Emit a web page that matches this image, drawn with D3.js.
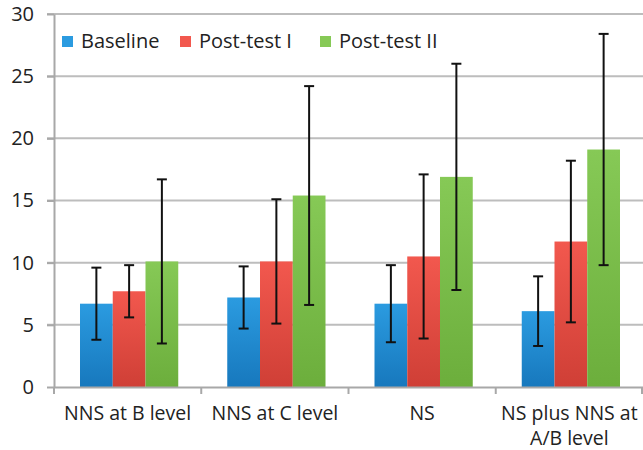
<!DOCTYPE html>
<html lang="en">
<head>
<meta charset="UTF-8">
<title>Scores by group</title>
<script src="https://d3js.org/d3.v7.min.js"></script>
<style>
    body { margin: 0; background: #fff; }
    text { font-family: "Open Sans", Lato, sans-serif; fill: #222; }
    .grid line { stroke: #bdbdbd; stroke-width: 2px; }
    .axis path, .axis line { stroke: #a8a8a8; stroke-width: 2px; }
    .err { stroke: #111; stroke-width: 2px; }
</style>
</head>
<body>
<svg id="chart" width="643" height="450"></svg>
<script>
    const categories = ["NNS at B level", "NNS at C level", "NS", "NS plus NNS at A/B level"];
    const series = ["Baseline", "Post-test I", "Post-test II"];
    const baseline = [6.7, 7.2, 6.7, 6.1];
    const post1 = [7.7, 10.1, 10.5, 11.7];
    const post2 = [10.1, 15.4, 16.9, 19.1];
    // error bar low / high for each series
    const baselineLow = [3.8, 4.7, 3.6, 3.3];
    const baselineHigh = [9.6, 9.7, 9.8, 8.9];
    const post1Low = [5.6, 5.1, 3.9, 5.2];
    const post1High = [9.8, 15.1, 17.1, 18.2];
    const post2Low = [3.5, 6.6, 7.8, 9.8];
    const post2High = [16.7, 24.2, 26.0, 28.4];
    const yTicks = [0, 5, 10, 15, 20, 25, 30];
    const colors = [["#2b9be0", "#1778bd"], ["#f2584e", "#cf3f36"], ["#86c956", "#6cae3c"]];

    const values = [baseline, post1, post2];
    const lows = [baselineLow, post1Low, post2Low];
    const highs = [baselineHigh, post1High, post2High];

    const margin = {left: 54, right: 0, top: 14, bottom: 63};
    const width = 643, height = 450;
    const svg = d3.select("#chart");

    const x = d3.scaleBand().domain(categories)
        .range([margin.left, width - margin.right]).paddingInner(0).paddingOuter(0);
    const xs = d3.scaleBand().domain(series).range([26, x.bandwidth() - 23]).padding(0);
    const y = d3.scaleLinear().domain([0, 30]).range([height - margin.bottom, margin.top]);

    const defs = svg.append("defs");
    colors.forEach((c, i) => {
        const g = defs.append("linearGradient").attr("id", "grad" + i)
            .attr("x1", 0).attr("y1", 0).attr("x2", 0).attr("y2", 1);
        g.append("stop").attr("offset", "0%").attr("stop-color", c[0]);
        g.append("stop").attr("offset", "100%").attr("stop-color", c[1]);
    });

    // gridlines
    svg.append("g").attr("class", "grid")
        .selectAll("line").data(yTicks.slice(1)).enter().append("line")
        .attr("x1", margin.left - 7).attr("x2", width)
        .attr("y1", d => y(d)).attr("y2", d => y(d));

    // bars
    const rows = categories.map((c, i) => series.map((s, j) => ({
        cat: c, s: s, j: j, v: values[j][i], lo: lows[j][i], hi: highs[j][i]
    })));
    const group = svg.selectAll(".grp").data(rows).enter().append("g")
        .attr("transform", (d, i) => `translate(${x(categories[i])},0)`);
    group.selectAll("rect").data(d => d).enter().append("rect")
        .attr("x", d => xs(d.s)).attr("width", xs.bandwidth())
        .attr("y", d => y(d.v)).attr("height", d => y(0) - y(d.v))
        .attr("fill", d => `url(#grad${d.j})`);

    // error bars
    const eb = group.selectAll(".eb").data(d => d).enter().append("g")
        .attr("transform", d => `translate(${xs(d.s) + xs.bandwidth() / 2},0)`);
    eb.append("line").attr("class", "err").attr("x1", 0).attr("x2", 0)
        .attr("y1", d => y(d.lo)).attr("y2", d => y(d.hi));
    eb.append("line").attr("class", "err").attr("x1", -5).attr("x2", 5)
        .attr("y1", d => y(d.lo)).attr("y2", d => y(d.lo));
    eb.append("line").attr("class", "err").attr("x1", -5).attr("x2", 5)
        .attr("y1", d => y(d.hi)).attr("y2", d => y(d.hi));

    // y axis
    const yAxis = svg.append("g").attr("class", "axis")
        .attr("transform", `translate(${margin.left},0)`)
        .call(d3.axisLeft(y).tickValues(yTicks).tickSize(7).tickSizeOuter(0).tickPadding(13));
    yAxis.selectAll("text").style("font-size", "20px").style("font-family", "'Open Sans', sans-serif").attr("fill", "#222");

    // x axis
    const xAxis = svg.append("g").attr("class", "axis")
        .attr("transform", `translate(0,${y(0)})`)
        .call(d3.axisBottom(x).tickSize(0).tickSizeOuter(0).tickFormat(""));
    xAxis.selectAll(".boundary").data(categories).enter().append("line")
        .attr("x1", d => x(d)).attr("x2", d => x(d)).attr("y1", 0).attr("y2", 7);
    xAxis.append("line").attr("x1", width - 1).attr("x2", width - 1).attr("y1", 0).attr("y2", 7);

    const labelLines = {"NS plus NNS at A/B level": ["NS plus NNS at", "A/B level"]};
    categories.forEach(c => {
        const lines = labelLines[c] || [c];
        const t = svg.append("text").attr("text-anchor", "middle")
            .attr("x", x(c) + x.bandwidth() / 2).attr("y", y(0) + 33)
            .style("font-size", "19.5px");
        lines.forEach((l, k) => t.append("tspan")
            .attr("x", x(c) + x.bandwidth() / 2).attr("dy", k === 0 ? 0 : 25).text(l));
    });

    // legend
    const legendX = [62, 180, 320];
    const legend = svg.selectAll(".leg").data(series).enter().append("g")
        .attr("transform", (d, i) => `translate(${legendX[i]},36)`);
    legend.append("rect").attr("width", 11).attr("height", 11)
        .attr("fill", (d, i) => colors[i][0]);
    legend.append("text").attr("x", 19).attr("y", 12)
        .style("font-size", "20px").text(d => d);
</script>
</body>
</html>
